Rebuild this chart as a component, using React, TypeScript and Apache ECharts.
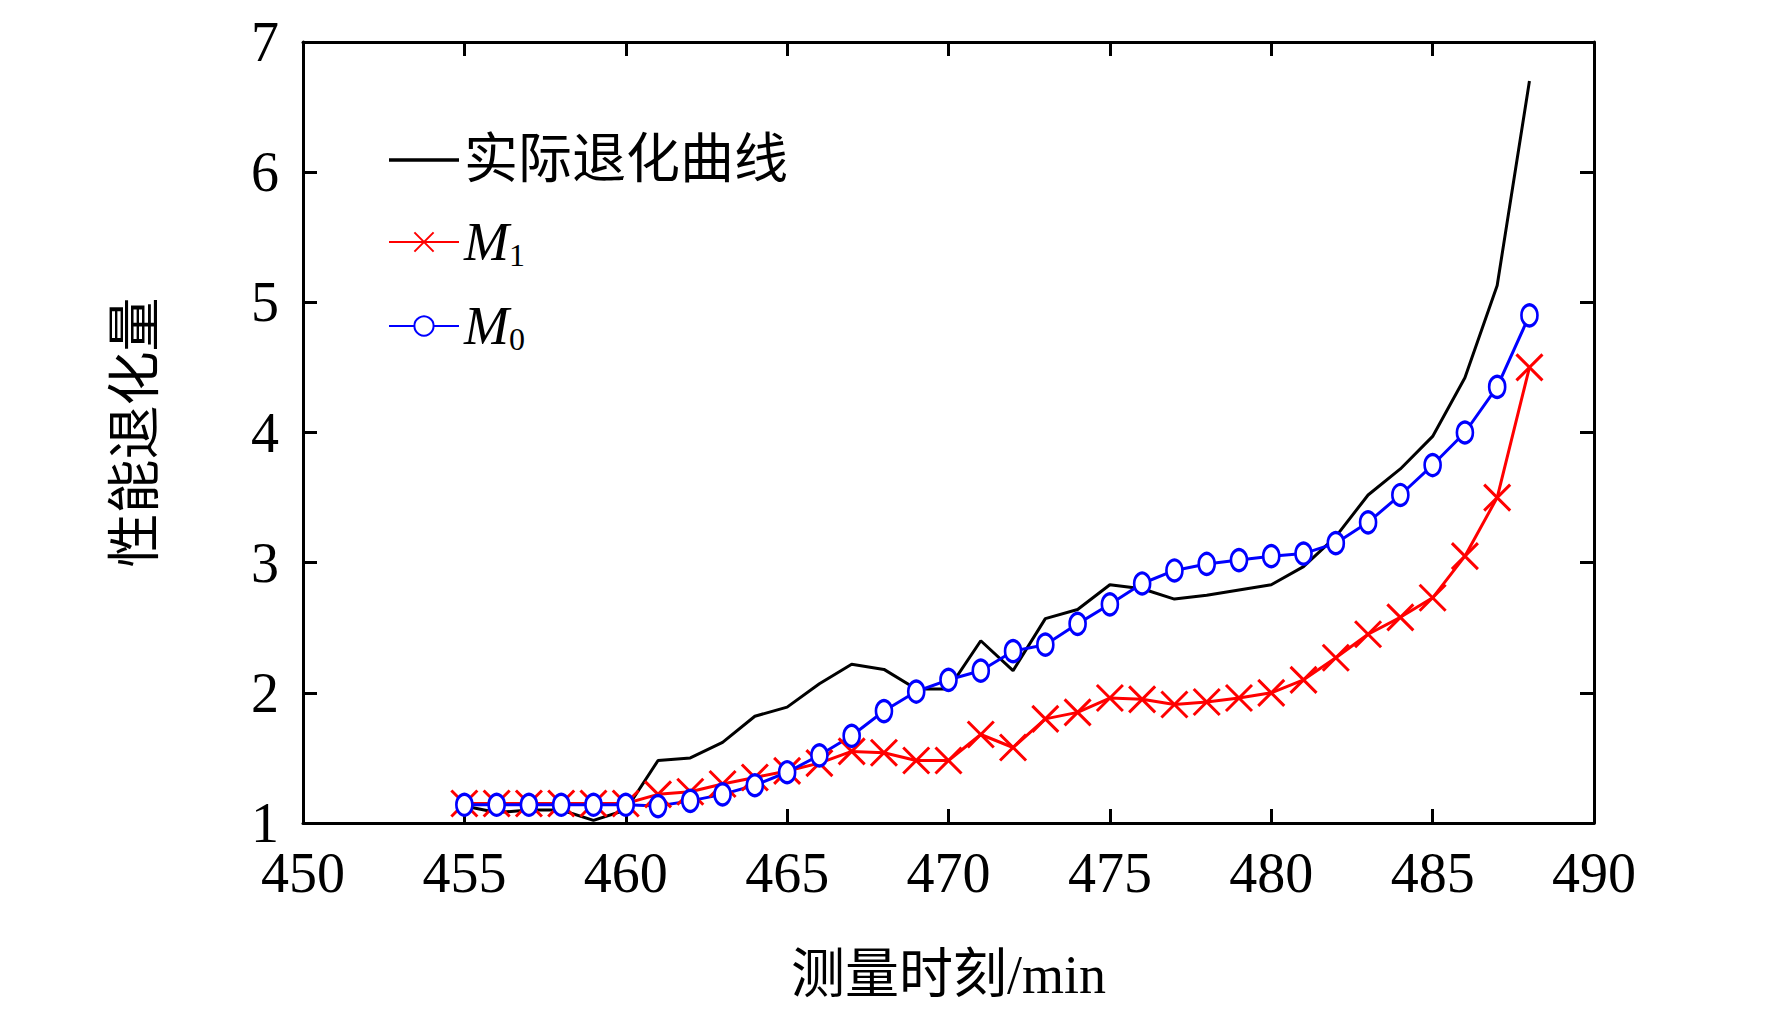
import { useRef, useEffect } from "react";
import * as echarts from "echarts";

const times = Array.from({ length: 34 }, (_, i) => 455 + i);
const actual = [1.13, 1.08, 1.1, 1.1, 1.02, 1.1, 1.48, 1.5, 1.62, 1.82, 1.89, 2.07, 2.22, 2.18, 2.03, 2.03, 2.4, 2.17, 2.57, 2.64, 2.83, 2.8, 2.72, 2.75, 2.79, 2.83, 2.97, 3.2, 3.52, 3.72, 3.97, 4.42, 5.13, 6.7];
const m1 = [1.15, 1.15, 1.15, 1.15, 1.15, 1.15, 1.22, 1.24, 1.3, 1.35, 1.4, 1.46, 1.55, 1.54, 1.48, 1.48, 1.68, 1.58, 1.8, 1.85, 1.96, 1.95, 1.91, 1.93, 1.96, 2.0, 2.1, 2.27, 2.45, 2.58, 2.73, 3.05, 3.5, 4.5];
const m0 = [1.14, 1.14, 1.14, 1.14, 1.14, 1.14, 1.13, 1.17, 1.22, 1.29, 1.39, 1.52, 1.67, 1.86, 2.01, 2.1, 2.17, 2.32, 2.37, 2.53, 2.68, 2.84, 2.94, 2.99, 3.02, 3.05, 3.07, 3.15, 3.31, 3.52, 3.75, 4.0, 4.35, 4.9];

const FONT = "'Liberation Serif', 'Times New Roman', 'Noto Sans CJK SC', serif";
const pair = (ys: number[]) => times.map((t, i) => [t, ys[i]]);

export default function App() {
  const ref = useRef<HTMLDivElement>(null);

  useEffect(() => {
    if (!ref.current) return;
    const chart = echarts.init(ref.current, undefined, { renderer: "svg" });
    const axisLine = { show: true, lineStyle: { color: "#000", width: 3 } };
    const tick = { show: true, inside: true, length: 14, lineStyle: { color: "#000", width: 3 } };
    const label = { color: "#000", fontSize: 56, fontFamily: FONT };
    chart.setOption({
      animation: false,
      grid: { left: 295, right: 170, top: 34, bottom: 185 },
      legend: {
        orient: "vertical",
        left: 375,
        top: 120,
        itemWidth: 70,
        itemHeight: 24,
        itemGap: 28,
        textStyle: {
          fontSize: 54, fontFamily: FONT, color: "#000",
          rich: {
            i: { fontSize: 54, fontStyle: "italic", fontFamily: FONT, color: "#000" },
            s: { fontSize: 32, fontFamily: FONT, color: "#000", padding: [26, 0, 0, 0] },
          },
        },
        formatter: (n: string) =>
          n === "M1" ? "{i|M}{s|1}" : n === "M0" ? "{i|M}{s|0}" : n,
        data: [
          { name: "实际退化曲线", icon: "path://M0,0L40,0L40,2L0,2Z", itemStyle: { color: "#000" } },
          "M1",
          "M0",
        ],
      },
      xAxis: [
        {
          type: "value", min: 450, max: 490, interval: 5,
          axisLine, axisTick: tick, splitLine: { show: false },
          axisLabel: { ...label, margin: 22 },
          name: "测量时刻/min", nameLocation: "middle", nameGap: 125,
          nameTextStyle: { ...label, fontSize: 54 },
        },
        {
          type: "value", position: "top", min: 450, max: 490, interval: 5,
          axisLine, axisTick: tick, axisLabel: { show: false }, splitLine: { show: false },
        },
      ],
      yAxis: [
        {
          type: "value", min: 1, max: 7, interval: 1,
          axisLine, axisTick: tick, splitLine: { show: false },
          axisLabel: { ...label, margin: 24, verticalAlign: "middle" },
          name: "性能退化量", nameLocation: "middle", nameGap: 140,
          nameTextStyle: { ...label, fontSize: 54 },
        },
        {
          type: "value", position: "right", min: 1, max: 7, interval: 1,
          axisLine, axisTick: tick, axisLabel: { show: false }, splitLine: { show: false },
        },
      ],
      series: [
        {
          name: "实际退化曲线", type: "line", data: pair(actual), symbol: "none",
          lineStyle: { color: "#000", width: 3 }, itemStyle: { color: "#000" },
        },
        {
          name: "M1", type: "line", data: pair(m1), showSymbol: true, showAllSymbol: true,
          symbol: "path://M0,0L10,10M10,0L0,10", symbolSize: [26, 26],
          lineStyle: { color: "#f00", width: 3, type: "solid" },
          itemStyle: { color: "none", borderColor: "#f00", borderWidth: 3 },
        },
        {
          name: "M0", type: "line", data: pair(m0), showSymbol: true, showAllSymbol: true,
          symbol: "circle", symbolSize: [16, 21],
          lineStyle: { color: "#00f", width: 3, type: "solid" },
          itemStyle: { color: "#fff", borderColor: "#00f", borderWidth: 3 },
        },
      ],
    });
    return () => chart.dispose();
  }, []);

  return <div ref={ref} style={{ width: 1756, height: 1000 }} />;
}
